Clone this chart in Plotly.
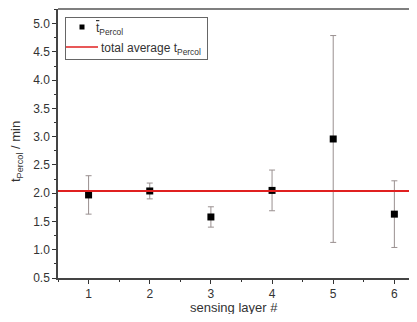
import plotly.graph_objects as go

layers = [1, 2, 3, 4, 5, 6]
t_percol = [1.97, 2.04, 1.58, 2.05, 2.96, 1.63]
t_err = [0.34, 0.14, 0.18, 0.36, 1.83, 0.59]
total_average = 2.04

label_mean = "<span style='text-decoration:overline'>t</span><sub>Percol</sub>"
label_avg = "total average t<sub>Percol</sub>"

x_range = [0.5, 6.37]
y_range = [0.5, 5.26]

fig = go.Figure()
fig.add_trace(go.Scatter(
    x=layers, y=t_percol, mode="markers",
    marker=dict(symbol="square", size=7, color="black"),
    error_y=dict(type="data", array=t_err, color="#9a9090", thickness=1, width=3),
    name=label_mean, showlegend=False,
))
fig.add_trace(go.Scatter(
    x=x_range, y=[total_average, total_average], mode="lines",
    line=dict(color="#e02020", width=2),
    name=label_avg, showlegend=False,
))

font = dict(family="Liberation Sans, Arial, sans-serif", color="#333")

# geometry helpers (page pixels -> paper coords) for legend/titles
L, R, T, B = 58, 417, 9, 278
def px(x):
    return (x - L) / (R - L)
def py(y):
    return (B - y) / (B - T)

def seg(x0, y0, x1, y1, color, width):
    return dict(type="line", xref="paper", yref="paper",
                x0=px(x0), x1=px(x1), y0=py(y0), y1=py(y1),
                line=dict(color=color, width=width), layer="above")

shapes = [
    dict(type="line", xref="paper", yref="paper", x0=0, x1=1, y0=1, y1=1,
         line=dict(color="#555", width=1.5)),
    # legend frame
    seg(65, 17.5, 207, 17.5, "#666", 1),
    seg(65, 59.5, 207, 59.5, "#666", 1),
    seg(65.5, 17, 65.5, 60, "#666", 1),
    seg(207.5, 17, 207.5, 60, "#666", 1),
    # legend symbol: red line
    seg(66, 47, 98, 47, "#e02020", 1.5),
]

annotations = [
    dict(text=label_mean, xref="paper", yref="paper", x=px(94), y=py(29),
         xanchor="left", yanchor="middle", showarrow=False, font=dict(size=12, **font)),
    dict(text=label_avg, xref="paper", yref="paper", x=px(99), y=py(49),
         xanchor="left", yanchor="middle", showarrow=False, font=dict(size=12, **font)),
    dict(text="t<sub>Percol</sub> / min", xref="paper", yref="paper", x=px(16), y=py(152),
         xanchor="center", yanchor="middle", textangle=-90, showarrow=False,
         font=dict(size=13, **font)),
    dict(text="sensing layer #", xref="paper", yref="paper", x=px(234), y=py(307),
         xanchor="center", yanchor="middle", showarrow=False,
         font=dict(size=13, **font)),
]

# legend symbol: square marker (drawn as a marker trace in paper space)
fig.add_trace(go.Scatter(
    x=[px(82)], y=[py(27)], xaxis="x2", yaxis="y2", mode="markers",
    marker=dict(symbol="square", size=5, color="black"),
    showlegend=False, hoverinfo="skip",
))

fig.update_layout(
    width=409, height=306,
    margin=dict(l=50, r=0, t=1, b=36),
    paper_bgcolor="white", plot_bgcolor="white",
    font=dict(size=12, **font),
    showlegend=False,
    shapes=shapes,
    annotations=annotations,
    xaxis=dict(
        range=x_range, tickvals=layers, ticks="outside", ticklen=4,
        tickcolor="#333", showline=True, linecolor="#444", linewidth=1.5,
        showgrid=False, zeroline=False, automargin=False,
        minor=dict(dtick=0.5, tick0=0.5, ticks="outside", ticklen=2, tickcolor="#333"),
        tickfont=dict(size=12, **font),
    ),
    yaxis=dict(
        range=y_range, dtick=0.5, tick0=0.5, ticks="outside", ticklen=4,
        tickcolor="#333", showline=True, linecolor="#444", linewidth=1.5,
        showgrid=False, zeroline=False, tickformat=".1f", automargin=False,
        minor=dict(dtick=0.25, tick0=0.5, ticks="outside", ticklen=2, tickcolor="#333"),
        tickfont=dict(size=12, **font),
    ),
    xaxis2=dict(range=[0, 1], overlaying="x", visible=False, fixedrange=True),
    yaxis2=dict(range=[0, 1], overlaying="y", visible=False, fixedrange=True),
)

fig.write_html("out.html")
